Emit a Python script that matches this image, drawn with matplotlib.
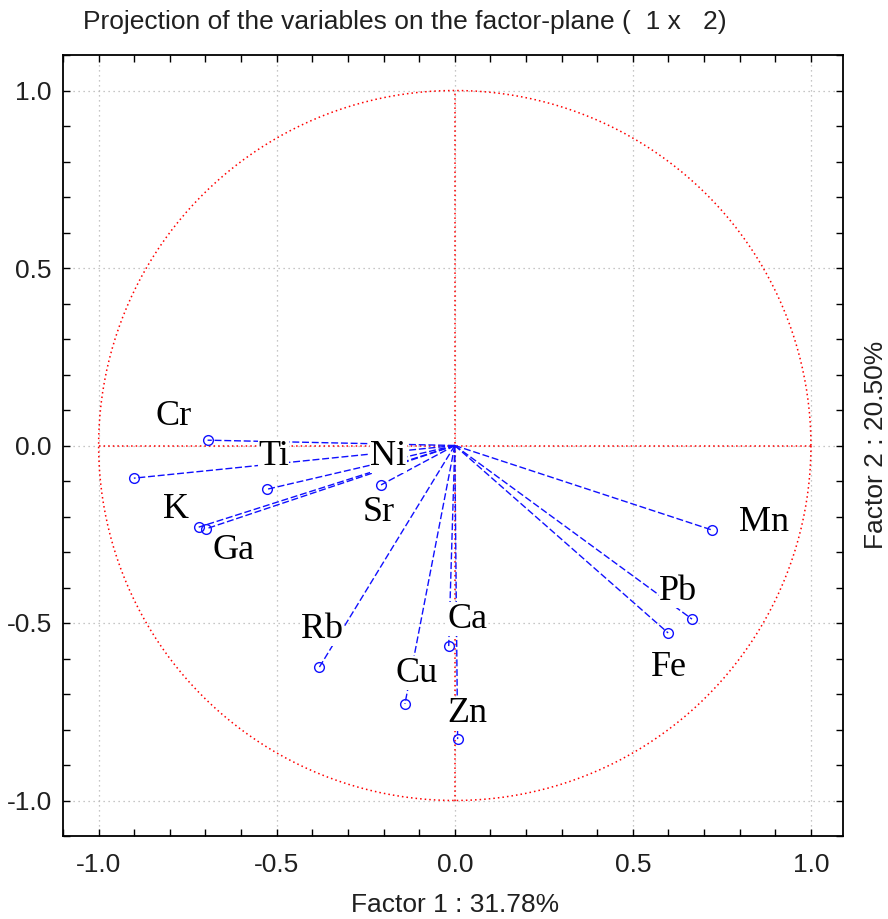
import numpy as np
import matplotlib
matplotlib.use("Agg")
import matplotlib.pyplot as plt
from matplotlib.ticker import MultipleLocator

plt.rcParams["axes.unicode_minus"] = False

names = ["Cr", "Ni", "Ti", "Sr", "K", "Ga", "Rb", "Cu", "Ca", "Zn", "Mn", "Pb", "Fe"]
factor1 = [-0.694, -0.901, -0.526, -0.207, -0.719, -0.699, -0.380, -0.140, -0.017, 0.008, 0.722, 0.666, 0.599]
factor2 = [0.015, -0.092, -0.123, -0.111, -0.230, -0.235, -0.624, -0.728, -0.565, -0.827, -0.238, -0.489, -0.528]

# where the labels sit (moved by hand in the original)
label_x = [-0.79, -0.187, -0.509, -0.215, -0.783, -0.621, -0.372, -0.106, 0.036, 0.034, 0.867, 0.627, 0.601]
label_y = [0.083, -0.030, -0.030, -0.190, -0.179, -0.297, -0.517, -0.641, -0.489, -0.756, -0.218, -0.410, -0.625]

title = "Projection of the variables on the factor-plane (  1 x   2)"
xlab = "Factor 1 : 31.78%"
ylab = "Factor 2 : 20.50%"

sans = ["Liberation Sans", "DejaVu Sans"]
serif = ["Liberation Serif", "DejaVu Serif"]

fig = plt.figure(figsize=(8.88, 9.19), dpi=100)
ax = fig.add_axes([63 / 888, 83 / 919, 780 / 888, 781 / 919])

ax.set_xlim(-1.1, 1.09)
ax.set_ylim(-1.1, 1.1)

ax.xaxis.set_major_locator(MultipleLocator(0.5))
ax.yaxis.set_major_locator(MultipleLocator(0.5))
ax.xaxis.set_minor_locator(MultipleLocator(0.1))
ax.yaxis.set_minor_locator(MultipleLocator(0.1))
ax.tick_params(which="both", direction="in", top=True, right=True, length=5, width=1)
ax.tick_params(which="major", labelsize=19, pad=8)
ax.tick_params(axis="x", which="major", pad=12)
for lab in ax.get_xticklabels() + ax.get_yticklabels():
    lab.set_family(sans)
    lab.set_color("#202020")
ax.grid(True, which="major", color="#b4b4b4", linestyle=(0, (1, 3)), linewidth=0.9)
for s in ax.spines.values():
    s.set_linewidth(1.3)

t = np.linspace(0, 2 * np.pi, 400)
ax.plot(np.cos(t), np.sin(t), color="red", linestyle=(0, (1, 2)), linewidth=1.1, zorder=2)
ax.plot([-1, 1], [0, 0], color="red", linestyle=(0, (1, 2)), linewidth=1.1, zorder=2)
ax.plot([0, 0], [-1, 1], color="red", linestyle=(0, (1, 2)), linewidth=1.1, zorder=2)

for x, y in zip(factor1, factor2):
    ax.plot([0, x], [0, y], color="#1010ff", linestyle=(0, (5, 2)), linewidth=1.0, zorder=3)
ax.plot(factor1, factor2, "o", markerfacecolor="none", markeredgecolor="#1010ff",
        markersize=7, markeredgewidth=1, zorder=4)

for n, lx, ly in zip(names, label_x, label_y):
    ax.text(lx, ly, n, ha="center", va="center", fontsize=26, family=serif, zorder=5,
            bbox=dict(facecolor="white", edgecolor="none", pad=0.3))

fig.text(405 / 888, 1 - 22 / 919, title, ha="center", va="center", fontsize=19, family=sans, color="#202020")
fig.text(455 / 888, 1 - 905 / 919, xlab, ha="center", va="center", fontsize=19, family=sans, color="#202020")
fig.text(876 / 888, 1 - 445 / 919, ylab, ha="center", va="center", rotation=90, fontsize=19,
         family=sans, color="#202020")

fig.savefig("out.png", dpi=100)
